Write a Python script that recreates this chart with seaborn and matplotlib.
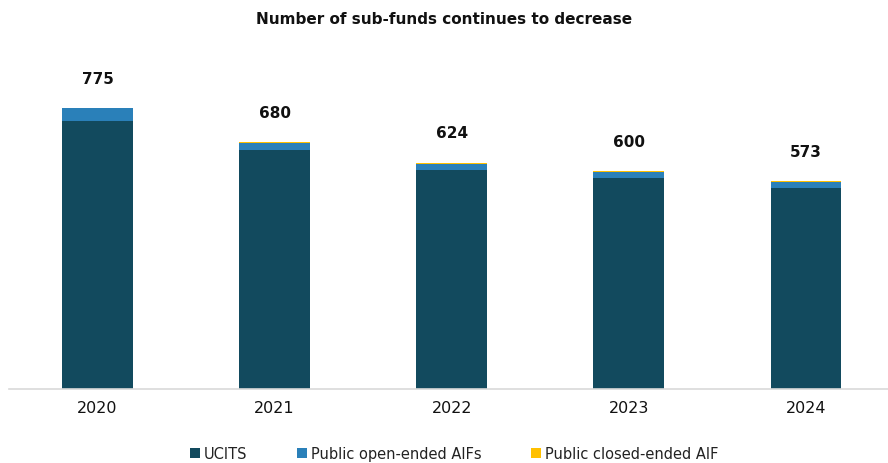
import matplotlib
matplotlib.use("Agg")
import matplotlib.pyplot as plt
import seaborn as sns
import pandas as pd
import numpy as np
from matplotlib.lines import Line2D

years = ["2020", "2021", "2022", "2023", "2024"]
ucits = [739, 660, 604, 582, 555]
open_aif = [35, 19, 17, 16, 16]
closed_aif = [1, 1, 3, 2, 2]
totals = [775, 680, 624, 600, 573]

series_names = ["UCITS", "Public open-ended AIFs", "Public closed-ended AIF"]
colors = ["#124A5E", "#2A80B9", "#FFC000"]

sns.set_theme(style="white")
plt.rcParams["font.family"] = ["DejaVu Sans"]

df = pd.DataFrame({"year": years, "ucits": ucits, "open": open_aif, "closed": closed_aif})
df["b2"] = df["ucits"]
df["b3"] = df["ucits"] + df["open"]

fig = plt.figure(figsize=(8.88, 4.64), dpi=100)
ax = fig.add_axes([9/888, (464-390)/464, 879/888, (390-60)/464])

sns.barplot(data=df, x="year", y="ucits", color=colors[0], width=0.4, ax=ax,
            saturation=1, linewidth=0)
sns.barplot(data=df, x="year", y="open", bottom=df["b2"], color=colors[1], width=0.4,
            ax=ax, saturation=1, linewidth=0)
sns.barplot(data=df, x="year", y="closed", bottom=df["b3"], color=colors[2], width=0.4,
            ax=ax, saturation=1, linewidth=0)

ax.set_xlim(-0.5, 4.463)
ax.set_ylim(0, 775 * 330 / 281)

for i, t in enumerate(totals):
    ax.annotate(f"{t}", xy=(i, t), xytext=(0, 21.5), textcoords="offset points",
                ha="center", va="center", fontsize=11, fontweight="bold", color="#111111")

for s in ["top", "right", "left"]:
    ax.spines[s].set_visible(False)
ax.spines["bottom"].set_color("#D9D9D9")
ax.spines["bottom"].set_linewidth(1.2)
ax.set_yticks([])
ax.set_xlabel("")
ax.set_ylabel("")
ax.tick_params(axis="x", length=0, labelsize=11.5, pad=8, colors="#111111")

fig.suptitle("Number of sub-funds continues to decrease", y=1 - 19/464, va="center",
             fontsize=11, fontweight="bold", color="#111111")

handles = [Line2D([0], [0], marker="s", linestyle="none", markersize=7,
                  markerfacecolor=c, markeredgewidth=0) for c in colors]
fig.legend(handles, series_names, loc="center", bbox_to_anchor=(454/888, 1 - 455/464),
           ncol=3, frameon=False, fontsize=10.5, handlelength=0.7, handletextpad=0.25,
           columnspacing=3.4, labelcolor="#222222")

fig.savefig("out.png", dpi=100)
